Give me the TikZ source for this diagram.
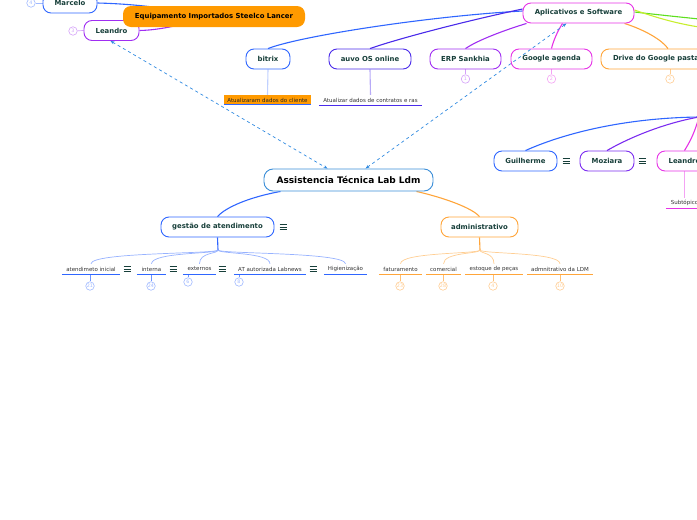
\documentclass[tikz,border=0pt]{standalone}
\usepackage{fontspec}
\setmainfont{DejaVu Sans}
\usetikzlibrary{arrows.meta,backgrounds}
\definecolor{cblue}{HTML}{2F66FF}
\definecolor{cindigo}{HTML}{4A2BEA}
\definecolor{cviolet}{HTML}{7B2CF0}
\definecolor{cpurple}{HTML}{A02EF2}
\definecolor{cmag}{HTML}{E632E6}
\definecolor{corange}{HTML}{FFA53A}
\definecolor{cfill}{HTML}{FF9A00}
\definecolor{ctext}{HTML}{173F3A}
\definecolor{cmain}{HTML}{3B8ED8}
\definecolor{cdash}{HTML}{2F8AE0}
\definecolor{cgreen}{HTML}{5EDF1E}
\definecolor{cyellow}{HTML}{C8EE2E}
\tikzset{
  topic/.style={draw=#1, rounded corners=8pt, fill=white, line width=0.9pt,
    minimum height=20pt, inner xsep=0pt, inner ysep=0pt,
    font=\fontsize{6.9}{8}\selectfont\bfseries, text=ctext},
  leaf/.style={minimum height=10pt, inner sep=0pt,
    font=\fontsize{5.5}{6}\selectfont, text=black!80},
  circ/.style={circle, draw=#1, fill=white, line width=0.6pt, minimum size=8.5pt,
    inner sep=0pt, font=\fontsize{4.8}{5}\selectfont, text=#1},
  conn/.style={line width=1.1pt},
  thin/.style={line width=0.7pt},
  ul/.style={line width=1.3pt},
  menuicon/.pic={\draw[ctext, line width=0.6pt] (-3.5,-2.7)--(3.5,-2.7) (-3.5,0)--(3.5,0) (-3.5,2.7)--(3.5,2.7);}
}
\begin{document}
\begin{tikzpicture}[x=1pt,y=-1pt]
\useasboundingbox (0,0) rectangle (697,520);

% ---------- top-left group
\node[topic=cblue, minimum width=54pt] (marcelo) at (70,3) {Marcelo};
\node[circ=cblue!45] (c4a) at (31,3) {4};
\node[topic=cpurple, minimum width=55pt] (leandroA) at (111.5,30.5) {Leandro};
\node[circ=cpurple!45] (c3a) at (73,31) {3};
\node[rounded corners=8pt, fill=cfill, minimum width=182pt, minimum height=21pt, inner sep=0pt,
  font=\fontsize{6.9}{8}\selectfont\bfseries, text=black] (equip) at (214,16.5) {Equipamento Importados Steelco Lancer};

% ---------- Aplicativos
\node[topic=cmag, minimum width=111pt] (apl) at (578.5,13) {Aplicativos e Software};
\node[topic=cblue, minimum width=44pt] (bitrix) at (268,59) {bitrix};
\node[topic=cindigo, minimum width=82pt] (auvo) at (370,59) {auvo OS online};
\node[topic=cpurple, minimum width=71pt] (erp) at (465.5,59) {ERP Sankhia};
\node[topic=cmag, minimum width=81pt] (gag) at (551.5,59) {Google agenda};
\node[topic=corange, minimum width=138pt, text width=114pt, align=left] (drive) at (670,59) {Drive do Google pasta};
\node[circ=cpurple!45] (cerp) at (465.5,79) {1};
\node[circ=cmag!45] (cgag) at (551.5,79) {2};
\node[circ=corange!55] (cdrive) at (670,79) {2};
\coordinate (offG) at (699,19);
\coordinate (offY) at (699,27);

\node[leaf, fill=cfill, minimum width=87pt, text=black!85] (bitleaf) at (267.5,100) {Atualizaram dados do cliente};
\node[leaf, minimum width=103pt] (auvoleaf) at (370.5,100) {Atualizar dados de contratos e ras};

% ---------- right group
\coordinate (rnode) at (699,117);
\node[topic=cblue, minimum width=63pt] (guil) at (525.5,161) {Guilherme};
\node[topic=cviolet, minimum width=54pt] (moz) at (607,161) {Moziara};
\node[topic=cmag, minimum width=55pt] (leandroB) at (684.5,161) {Leandro};
\pic at (566,161) {menuicon};
\pic at (642,161) {menuicon};
\node[leaf, minimum width=37pt] (subt) at (684.5,203) {Subtópico};

% ---------- main
\node[draw=cmain, rounded corners=9pt, fill=white, line width=0.9pt, minimum width=169pt,
  minimum height=22pt, inner sep=0pt, font=\fontsize{9}{10}\selectfont\bfseries, text=black] (main) at (348.5,180) {Assistencia Técnica Lab Ldm};

\node[topic=cblue, minimum width=113pt] (gest) at (217.5,227) {gestão de atendimento};
\pic at (283,227) {menuicon};
\node[topic=corange, minimum width=77pt] (adm) at (479.5,227) {administrativo};

% gestão leaves
\node[leaf, minimum width=58pt] (g1) at (91,269) {atendimeto inicial};
\node[leaf, minimum width=29pt] (g2) at (151.5,269) {interna};
\node[leaf, minimum width=33pt] (g3) at (199.5,269) {externos};
\node[leaf, minimum width=72pt] (g4) at (270,269) {AT autorizada Labnews};
\node[leaf, minimum width=43pt] (g5) at (345.5,269) {Higienização};
\pic at (127,269) {menuicon};
\pic at (173,269) {menuicon};
\pic at (222,269) {menuicon};
\pic at (313,269) {menuicon};
\node[circ=cblue!45] (cg1) at (90,286) {21};
\node[circ=cblue!45] (cg2) at (151,286) {24};
\node[circ=cblue!45] (cg3) at (188,282) {6};
\node[circ=cblue!45] (cg4) at (239,282) {8};
\coordinate (gfan) at (218,250);

% admin leaves
\node[leaf, minimum width=43pt] (a1) at (400.5,269) {faturamento};
\node[leaf, minimum width=35pt] (a2) at (443.5,269) {comercial};
\node[leaf, minimum width=58pt] (a3) at (494,269) {estoque de peças};
\node[leaf, minimum width=66pt] (a4) at (560,269) {admnitrativo da LDM};
\node[circ=corange!55] (ca1) at (400,286) {23};
\node[circ=corange!55] (ca2) at (443,286) {28};
\node[circ=corange!55] (ca3) at (493,286) {4};
\node[circ=corange!55] (ca4) at (560,286) {10};
\coordinate (afan) at (480,250);

% ---------- connectors
\begin{scope}[on background layer]
  \draw[conn, cblue] (marcelo.east) .. controls (140,4) and (180,10) .. (equip.center);
  \draw[conn, cpurple] (leandroA.east) .. controls (165,30) and (190,22) .. (equip.center);
  \draw[thin, cblue!45] (c4a) -- (marcelo.west);
  \draw[thin, cpurple!45] (c3a) -- (leandroA.west);

  \draw[conn, cblue] ([yshift=2pt]apl.west) .. controls (430,16) and (300,36) .. (bitrix.north);
  \draw[conn, cindigo] ([yshift=4pt]apl.west) .. controls (470,20) and (400,38) .. (auvo.north);
  \draw[conn, cpurple] ([xshift=-52pt]apl.south) .. controls (505,30) and (478,40) .. (erp.north);
  \draw[conn, cmag] ([xshift=-16pt]apl.south) .. controls (557,32) and (553,42) .. (gag.north);
  \draw[conn, corange] ([xshift=46pt]apl.south) .. controls (645,30) and (662,40) .. ([xshift=-2pt]drive.north);
  \draw[conn, cgreen] ([yshift=1pt]apl.east) .. controls (660,15) and (680,17) .. (offG);
  \draw[conn, cyellow] ([yshift=3pt]apl.east) .. controls (660,19) and (680,24) .. (offY);
  \draw[thin, cpurple!45] (erp.south) -- (cerp.north);
  \draw[thin, cmag!45] (gag.south) -- (cgag.north);
  \draw[thin, corange!55] (cdrive.north) -- (cdrive.north |- drive.south);
  \draw[conn, cblue!30] (bitrix.south) -- (bitleaf.north);
  \draw[conn, cindigo!40] (auvo.south) -- (auvoleaf.north);

  \draw[conn, cblue] (rnode) .. controls (620,118) and (560,135) .. (guil.north);
  \draw[conn, cviolet] (rnode) .. controls (660,124) and (625,140) .. (moz.north);
  \draw[conn, cmag] (rnode) .. controls (694,135) and (689,143) .. (leandroB.north);
  \draw[conn, cmag!45] (leandroB.south) -- (subt.north);

  \draw[conn, cblue] ([xshift=-68pt]main.south) .. controls (250,197) and (226,207) .. (gest.north);
  \draw[conn, corange] ([xshift=68pt]main.south) .. controls (445,198) and (472,208) .. (adm.north);

  \draw[conn, cblue] (gest.south) -- (gfan);
  \foreach \n in {g1,g2,g3,g4,g5}
    \draw[thin, cblue!50] (gfan) .. controls (218,254) and (\n.north |- 0,252) .. (\n.north);
  \draw[conn, corange] (adm.south) -- (afan);
  \foreach \n in {a1,a2,a3,a4}
    \draw[thin, corange!55] (afan) .. controls (480,254) and (\n.north |- 0,252) .. (\n.north);

  \draw[thin, cblue!70] (cg1.north) -- (cg1.north |- g1.south);
  \draw[thin, cblue!70] (cg2.north) -- (cg2.north |- g2.south);
  \draw[thin, cblue!70] (cg3.north) -- (cg3.north |- g3.south);
  \draw[thin, cblue!70] (cg4.north) -- (cg4.north |- g4.south);
  \draw[thin, corange!70] (ca1.north) -- (ca1.north |- a1.south);
  \draw[thin, corange!70] (ca2.north) -- (ca2.north |- a2.south);
  \draw[thin, corange!70] (ca3.north) -- (ca3.north |- a3.south);
  \draw[thin, corange!70] (ca4.north) -- (ca4.north |- a4.south);
\end{scope}

% underlines
\draw[ul, cblue] ([yshift=1pt]bitleaf.south west) -- ([yshift=1pt]bitleaf.south east);
\draw[ul, cindigo] (auvoleaf.south west) -- (auvoleaf.south east);
\draw[ul, cmag] (subt.south west) -- (subt.south east);
\foreach \n in {g1,g2,g3,g4,g5}
  \draw[ul, cblue] (\n.south west) -- (\n.south east);
\foreach \n in {a1,a2,a3,a4}
  \draw[ul, corange] (\n.south west) -- (\n.south east);

% dashed relations
\draw[cdash, dashed, line width=0.7pt, {Stealth[length=4pt]}-{Stealth[length=4pt]}]
  ([xshift=-1pt]leandroA.south) -- ([xshift=-21pt]main.north);
\draw[cdash, dashed, line width=0.7pt, {Stealth[length=4pt]}-{Stealth[length=4pt]}]
  ([xshift=17pt]main.north) -- ([xshift=-12pt]apl.south);
\end{tikzpicture}
\end{document}
